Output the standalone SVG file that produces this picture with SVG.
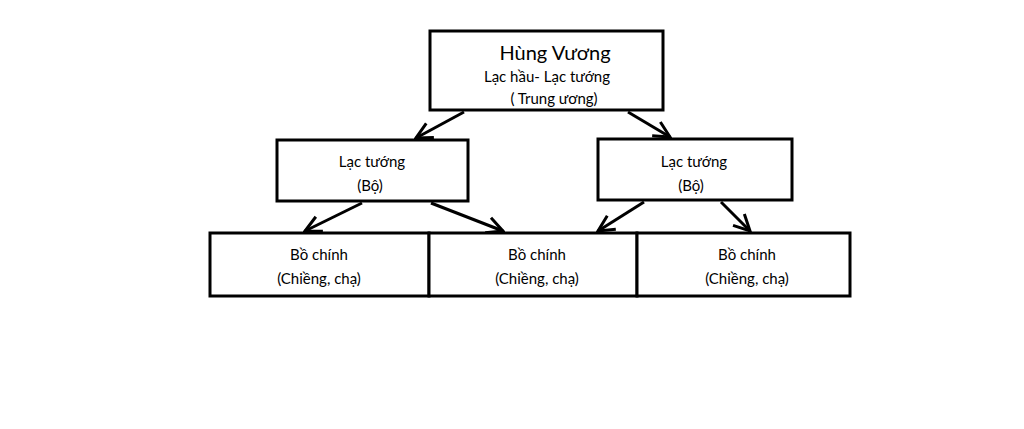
<svg xmlns="http://www.w3.org/2000/svg" width="1024" height="429" viewBox="0 0 1024 429">
<style>
.b{fill:#fff;stroke:#000;stroke-width:3}
text{font-family:Lato,"Open Sans",sans-serif;fill:#000;text-anchor:middle;font-size:15px}
.t{font-size:20px}
.c{stroke:#000;stroke-width:3;fill:none;marker-end:url(#a)}
</style>
<defs><marker id="a" viewBox="0 0 20 20" refX="18" refY="10" markerWidth="20" markerHeight="20" markerUnits="userSpaceOnUse" orient="auto"><path d="M2 2 L18 10 L2 18" fill="none" stroke="#000" stroke-width="3"/></marker></defs>
<rect width="1024" height="429" fill="#fff"/>
<g id="connectors">
<line class="c" x1="464" y1="112" x2="416" y2="138"/>
<line class="c" x1="628" y1="112" x2="670" y2="137"/>
<line class="c" x1="362" y1="203" x2="305" y2="231"/>
<line class="c" x1="431" y1="203" x2="503" y2="231"/>
<line class="c" x1="644" y1="202" x2="598" y2="231"/>
<line class="c" x1="721" y1="202" x2="750" y2="231"/>
</g>
<g id="hung-vuong"><rect class="b" x="430" y="31" width="233" height="79"/>
<text class="t" x="555" y="60">Hùng Vương</text><text x="547" y="82">Lạc hầu- Lạc tướng</text><text x="554" y="104">( Trung ương)</text></g>
<g id="lac-tuong-1"><rect class="b" x="277" y="140" width="191" height="61"/>
<text x="372" y="167">Lạc tướng</text><text x="370" y="191">(Bộ)</text></g>
<g id="lac-tuong-2"><rect class="b" x="598" y="139" width="194" height="61"/>
<text x="694" y="167">Lạc tướng</text><text x="691" y="191">(Bộ)</text></g>
<g id="bo-chinh-1"><rect class="b" x="210" y="233" width="219" height="63"/>
<text x="319" y="260">Bồ chính</text><text x="319" y="284">(Chiềng, chạ)</text></g>
<g id="bo-chinh-2"><rect class="b" x="429" y="233" width="208" height="63"/>
<text x="537" y="260">Bồ chính</text><text x="537" y="284">(Chiềng, chạ)</text></g>
<g id="bo-chinh-3"><rect class="b" x="637" y="233" width="213" height="63"/>
<text x="747" y="260">Bồ chính</text><text x="747" y="284">(Chiềng, chạ)</text></g>
</svg>
